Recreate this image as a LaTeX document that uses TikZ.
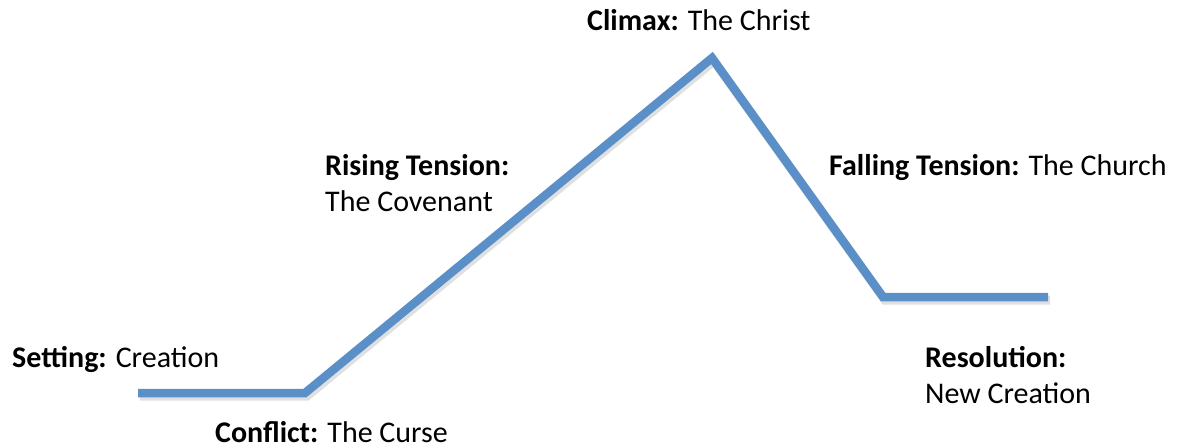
\documentclass[tikz,border=0pt]{standalone}
\usepackage{fontspec}
\setmainfont{Carlito}
\definecolor{arcblue}{RGB}{90,143,200}
\begin{document}
\begin{tikzpicture}[x=1pt,y=-1pt,
  lbl/.style={anchor=base west,inner sep=0pt,font=\fontsize{30}{36}\selectfont},
  arc/.style={line width=8.5pt,color=arcblue,line join=miter},
  arcshadow/.style={line width=9pt,color=black,opacity=0.12,line join=miter}]
\useasboundingbox (0,0) rectangle (1177,446);
\coordinate (s) at (138,393);
\coordinate (c) at (305,393);
\coordinate (p) at (712,58);
\coordinate (f) at (883,297);
\coordinate (e) at (1048,297);
\draw[arcshadow] ([shift={(2,3)}]s) -- ([shift={(2,3)}]c) -- ([shift={(2,3)}]p) -- ([shift={(2,3)}]f) -- ([shift={(2,3)}]e);
\draw[arc] (s) -- (c) -- (p) -- (f) -- (e);
\node[lbl] (climax) at (587,31) {\textbf{Climax:} The Christ};
\node[lbl] (rise1) at (325,176) {\textbf{Rising Tension:}};
\node[lbl] (rise2) at (325,212) {The Covenant};
\node[lbl] (fall) at (829,176) {\textbf{Falling Tension:} The Church};
\node[lbl] (setting) at (12,367) {\textbf{Setting:} Creation};
\node[lbl] (conflict) at (215,442) {\textbf{Conflict:} The Curse};
\node[lbl] (res1) at (925,367) {\textbf{Resolution:}};
\node[lbl] (res2) at (925,403) {New Creation};
\end{tikzpicture}
\end{document}
